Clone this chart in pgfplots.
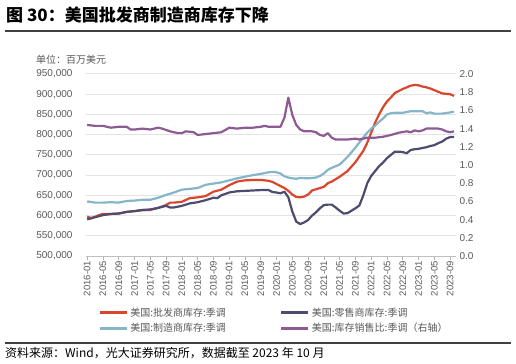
\documentclass[border=0pt]{standalone}
\usepackage{pgfplots}
\pgfplotsset{compat=1.18}
\usepackage{fontspec}
\setmainfont{Liberation Sans}
\newfontfamily\cjk{Noto Sans CJK SC}
\definecolor{cRed}{HTML}{D9462B}
\definecolor{cNavy}{HTML}{4C4B70}
\definecolor{cBlue}{HTML}{85B5C9}
\definecolor{cPurple}{HTML}{8E5A94}
\definecolor{cTxt}{HTML}{595959}
\definecolor{cGrid}{HTML}{E3E3E3}
\begin{document}
\begin{tikzpicture}[x=1bp,y=1bp]
\path[use as bounding box] (0,0) rectangle (516,363);
\node[anchor=west,inner sep=0] at (6,348) {\cjk\bfseries\fontsize{17bp}{20bp}\selectfont 图 30：美国批发商制造商库存下降};
\draw[line width=1.2bp,color=black!75] (5,332) -- (511,332);
\node[anchor=west,inner sep=0,text=cTxt] at (36,303) {\cjk\fontsize{10bp}{12bp}\selectfont 单位：百万美元};
\draw[line width=1.2bp,color=black!75] (5,20) -- (511,20);
\node[anchor=west,inner sep=0] at (5,10) {\cjk\fontsize{12bp}{14bp}\selectfont 资料来源：Wind，光大证券研究所，数据截至 2023 年 10 月};

\begin{axis}[
  at={(86bp,107bp)}, anchor=south west, scale only axis,
  width=370bp, height=182bp,
  xmin=-0.3, xmax=93.5, ymin=500, ymax=950,
  axis x line*=bottom, axis y line*=left,
  y axis line style={draw=none},
  x axis line style={draw=black!25, line width=0.8bp},
  ytick={500,550,600,650,700,750,800,850,900,950},
  yticklabels={{500,000},{550,000},{600,000},{650,000},{700,000},{750,000},{800,000},{850,000},{900,000},{950,000}},
  ytick style={draw=none},
  yticklabel style={font=\fontsize{10bp}{12bp}\selectfont, text=cTxt, xshift=-6bp},
  ymajorgrids, grid style={color=cGrid, line width=1bp},
  xtick={0,4,...,92},
  xticklabels={2016-01,2016-05,2016-09,2017-01,2017-05,2017-09,2018-01,2018-05,2018-09,2019-01,2019-05,2019-09,2020-01,2020-05,2020-09,2021-01,2021-05,2021-09,2022-01,2022-05,2022-09,2023-01,2023-05,2023-09},
  xticklabel style={rotate=90, anchor=east, font=\fontsize{9.5bp}{11bp}\selectfont, text=cTxt, inner sep=1bp},
  tick align=outside, major tick length=4bp,
  xtick style={draw=black!30, line width=0.6bp},
  legend columns=2,
  legend cell align=left,
  legend style={draw=none, fill=none, at={(0.033,-0.272)}, anchor=north west, inner sep=0pt,
    font=\cjk\fontsize{10bp}{12bp}\selectfont, text=cTxt,
    /tikz/every even column/.append style={column sep=52bp},
    row sep=1.5bp},
  legend image code/.code={\draw[#1, line width=3bp] (0bp,0bp) -- (27bp,0bp);},
  every axis plot/.append style={line width=2.2bp, line join=round},
]
\addplot[color=cRed] coordinates {
(0,597)(1,594)(2,597)(3,601)(4,604)(6,604)(8,605)(10,609)(12,611)(14,613)(16,614)(18,619)(20,626)(21,632)(22,632)(24,634)(26,643)(28,645)(30,648)(32,659)(34,664)(36,675)(38,684)(40,687)(42,688)(44,688)(46,686)(47,683)(48,678)(50,668)(51,661)(52,652)(53,646)(54,645)(55,647)(56,652)(57,662)(58,665)(60,671)(61,680)(62,684)(64,696)(66,710)(68,732)(70,760)(71,780)(72,805)(73,830)(74,850)(75,868)(76,882)(77,892)(78,903)(79,908)(80,913)(81,917)(82,921)(83,923)(84,922)(85,919)(86,917)(87,914)(88,910)(89,906)(90,902)(91,901)(92,900)(93,896)};
\addlegendentry{美国:批发商库存:季调}
\addplot[color=cNavy] coordinates {
(0,591)(1,593)(2,596)(4,601)(6,604)(8,605)(10,609)(12,611)(14,614)(16,615)(18,619)(20,624)(21,620)(22,620)(24,624)(26,630)(28,633)(30,638)(32,644)(33,643)(34,650)(36,657)(38,660)(40,661)(42,662)(44,663)(46,663)(47,658)(48,657)(49,655)(50,659)(51,645)(52,610)(53,585)(54,579)(55,583)(56,589)(57,600)(58,608)(59,618)(60,626)(61,627)(62,627)(63,620)(64,612)(65,605)(66,606)(67,612)(68,618)(69,625)(70,650)(71,680)(72,698)(73,710)(74,722)(75,731)(76,742)(77,750)(78,758)(79,758)(80,757)(81,754)(82,762)(83,764)(84,765)(85,767)(86,769)(87,772)(88,774)(89,779)(90,783)(91,790)(92,794)(93,794)};
\addlegendentry{美国:零售商库存:季调}
\addplot[color=cBlue] coordinates {
(0,635)(2,632)(4,632)(6,633)(8,632)(10,636)(12,637)(14,639)(16,639)(18,644)(20,651)(22,657)(24,664)(26,666)(28,668)(30,676)(32,679)(34,682)(36,687)(38,692)(40,696)(42,700)(44,703)(46,707)(47,708)(48,707)(49,704)(50,697)(51,694)(52,692)(53,691)(54,693)(56,692)(58,694)(59,698)(60,704)(61,713)(62,718)(64,726)(66,745)(68,768)(70,793)(71,805)(72,815)(73,822)(74,832)(75,840)(76,850)(77,853)(78,854)(80,854)(82,858)(84,858)(85,858)(86,853)(87,855)(88,852)(90,852)(92,855)(93,857)};
\addlegendentry{美国:制造商库存:季调}
\addlegendimage{color=cPurple}
\addlegendentry{美国:库存销售比:季调（右轴）}
\end{axis}

\begin{axis}[
  at={(86bp,107bp)}, anchor=south west, scale only axis,
  width=370bp, height=182bp,
  xmin=-0.3, xmax=93.5, ymin=0, ymax=2,
  axis x line=none, axis y line*=right,
  y axis line style={draw=none},
  ytick={0,0.2,...,2.0},
  ytick style={draw=none},
  /pgf/number format/assume math mode=true,
  yticklabel style={font=\fontsize{10bp}{12bp}\selectfont, text=cTxt, xshift=0bp,
    /pgf/number format/.cd, fixed, fixed zerofill, precision=1},
  every axis plot/.append style={line width=2.2bp, line join=round},
]
\addplot[color=cPurple] coordinates {
(0,1.44)(2,1.43)(4,1.43)(5,1.42)(6,1.41)(8,1.42)(10,1.42)(11,1.39)(12,1.39)(14,1.40)(16,1.39)(18,1.41)(19,1.40)(21,1.37)(23,1.35)(24,1.35)(25,1.37)(27,1.36)(28,1.33)(30,1.34)(32,1.35)(34,1.36)(36,1.41)(38,1.40)(40,1.41)(42,1.41)(44,1.42)(45,1.43)(46,1.42)(48,1.42)(49,1.42)(50,1.52)(51,1.74)(52,1.55)(53,1.44)(54,1.39)(55,1.37)(56,1.37)(57,1.37)(58,1.36)(59,1.33)(60,1.32)(61,1.35)(62,1.30)(63,1.28)(64,1.28)(66,1.28)(68,1.29)(69,1.28)(70,1.29)(71,1.30)(73,1.30)(75,1.31)(76,1.32)(77,1.33)(79,1.355)(81,1.37)(82,1.36)(83,1.38)(84,1.37)(85,1.38)(86,1.40)(88,1.40)(89,1.40)(90,1.39)(91,1.37)(92,1.36)(93,1.37)};
\end{axis}
\end{tikzpicture}
\end{document}
